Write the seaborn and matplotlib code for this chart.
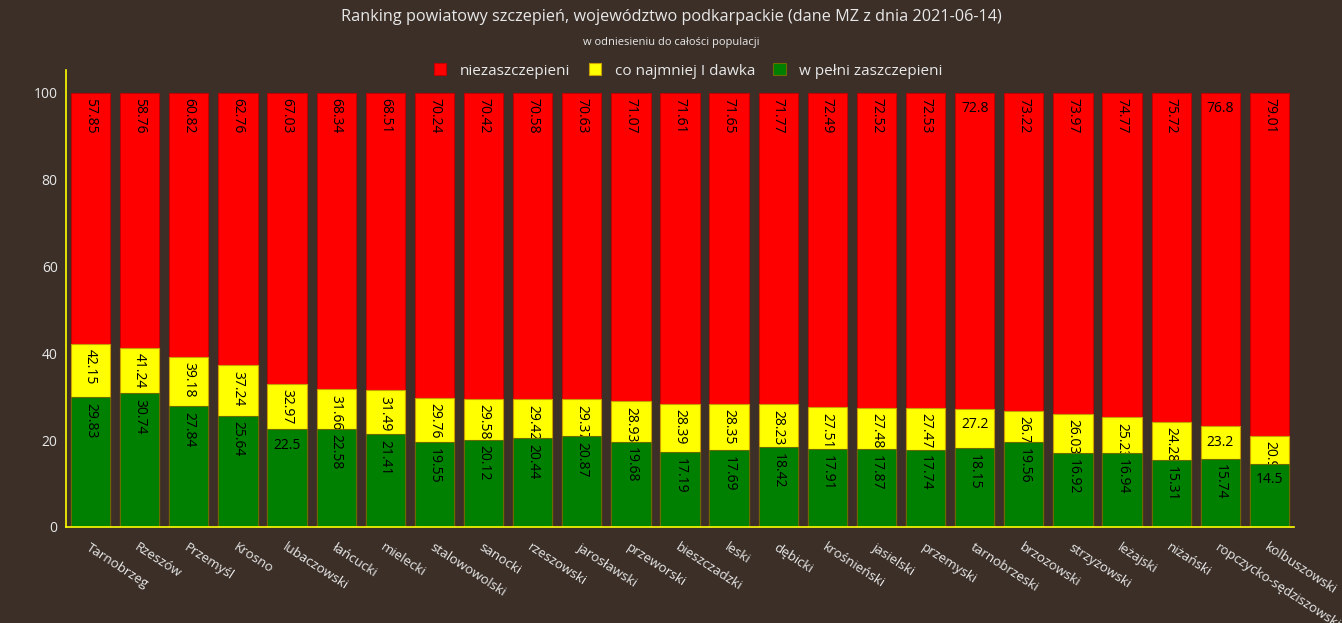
from matplotlib import pyplot as plt
import seaborn as sns
import pandas as pd

sns.set_style("dark")
plt.rcParams['font.family'] = ['Open Sans', 'DejaVu Sans']

BG = '#3b2f28'
FG = '#e8e8e8'

powiaty = ['Tarnobrzeg', 'Rzeszów', 'Przemyśl', 'Krosno', 'lubaczowski', 'łańcucki',
           'mielecki', 'stalowowolski', 'sanocki', 'rzeszowski', 'jarosławski',
           'przeworski', 'bieszczadzki', 'leski', 'dębicki', 'krośnieński', 'jasielski',
           'przemyski', 'tarnobrzeski', 'brzozowski', 'strzyżowski', 'leżajski',
           'niżański', 'ropczycko-sędziszowski', 'kolbuszowski']

niezaszczepieni = [57.85, 58.76, 60.82, 62.76, 67.03, 68.34, 68.51, 70.24, 70.42, 70.58,
                   70.63, 71.07, 71.61, 71.65, 71.77, 72.49, 72.52, 72.53, 72.8, 73.22,
                   73.97, 74.77, 75.72, 76.8, 79.01]
pierwsza_dawka = [42.15, 41.24, 39.18, 37.24, 32.97, 31.66, 31.49, 29.76, 29.58, 29.42,
                  29.37, 28.93, 28.39, 28.35, 28.23, 27.51, 27.48, 27.47, 27.2, 26.78,
                  26.03, 25.23, 24.28, 23.2, 20.99]
w_pelni = [29.83, 30.74, 27.84, 25.64, 22.5, 22.58, 21.41, 19.55, 20.12, 20.44,
           20.87, 19.68, 17.19, 17.69, 18.42, 17.91, 17.87, 17.74, 18.15, 19.56,
           16.92, 16.94, 15.31, 15.74, 14.5]

df = pd.DataFrame({'powiat': powiaty, 'nie': niezaszczepieni,
                   'dawka': pierwsza_dawka, 'pelni': w_pelni})
df['total'] = 100.0

fig = plt.figure(figsize=(13.42, 6.23), dpi=100, facecolor=BG)
ax = fig.add_axes([66 / 1342, 1 - 527 / 623, (1294 - 66) / 1342, (527 - 70) / 623])
ax.set_facecolor(BG)

layers = [('total', 'nie', '#ff0000', '#c00000', 'niezaszczepieni'),
          ('dawka', 'dawka', '#ffff00', '#c8a000', 'co najmniej I dawka'),
          ('pelni', 'pelni', '#008000', '#6b6b00', 'w pełni zaszczepieni')]

# overlaid bars: each layer's labels sit under the next layer's bars
for k, (col, lab_col, color, edge, label) in enumerate(layers):
    n_before = len(ax.patches)
    sns.barplot(data=df, x='powiat', y=col, color=color, saturation=1, width=0.8,
                edgecolor=edge, linewidth=0.8, ax=ax, label=label)
    for p in ax.patches[n_before:]:
        p.set_zorder(2 * k + 1)
    for i, row in df.iterrows():
        txt = f"{row[lab_col]:g}"
        top = row[col]
        if len(txt) <= 4:
            ax.annotate(txt, (i, top), xytext=(0, -6), textcoords='offset points',
                        ha='center', va='top', fontsize=10, color='black', zorder=2 * k + 2)
        else:
            ax.annotate(txt, (i, top), xytext=(0, -4), textcoords='offset points',
                        ha='center', va='top', rotation=270, fontsize=10, color='black',
                        zorder=2 * k + 2)

ax.set_xlim(-0.5, len(powiaty) - 0.5)
ax.set_ylim(0, 105.2)
ax.set_yticks([0, 20, 40, 60, 80, 100])
ax.set_xlabel('')
ax.set_ylabel('')
ax.grid(False)
ax.tick_params(axis='y', colors=FG, labelsize=10, length=0, pad=6)
ax.tick_params(axis='x', colors='#777777', labelcolor=FG, labelsize=9.6,
               length=5, direction='out', pad=5)
plt.setp(ax.get_xticklabels(), rotation=-33, ha='left', rotation_mode='anchor')
for side in ['left', 'bottom']:
    ax.spines[side].set_color('#ffff00')
    ax.spines[side].set_linewidth(1.2)
    ax.spines[side].set_zorder(10)
for side in ['top', 'right']:
    ax.spines[side].set_visible(False)

handles = ax.get_legend_handles_labels()[0][:3]
if ax.get_legend() is not None:
    ax.get_legend().remove()
fig.legend(handles=handles, labels=[l[4] for l in layers], loc='center',
           bbox_to_anchor=(0.513, 1 - 71 / 623), ncol=3, frameon=False, fontsize=11,
           handlelength=0.8, handleheight=0.8, columnspacing=1.2, handletextpad=0.9,
           labelcolor=FG)

fig.text(0.5, 1 - 17 / 623, 'Ranking powiatowy szczepień, województwo podkarpackie (dane MZ z dnia 2021-06-14)',
         ha='center', va='center', fontsize=11.7, color=FG)
fig.text(0.5, 1 - 43 / 623, 'w odniesieniu do całości populacji',
         ha='center', va='center', fontsize=8, color=FG)

fig.savefig('out.png', dpi=100, facecolor=BG)
